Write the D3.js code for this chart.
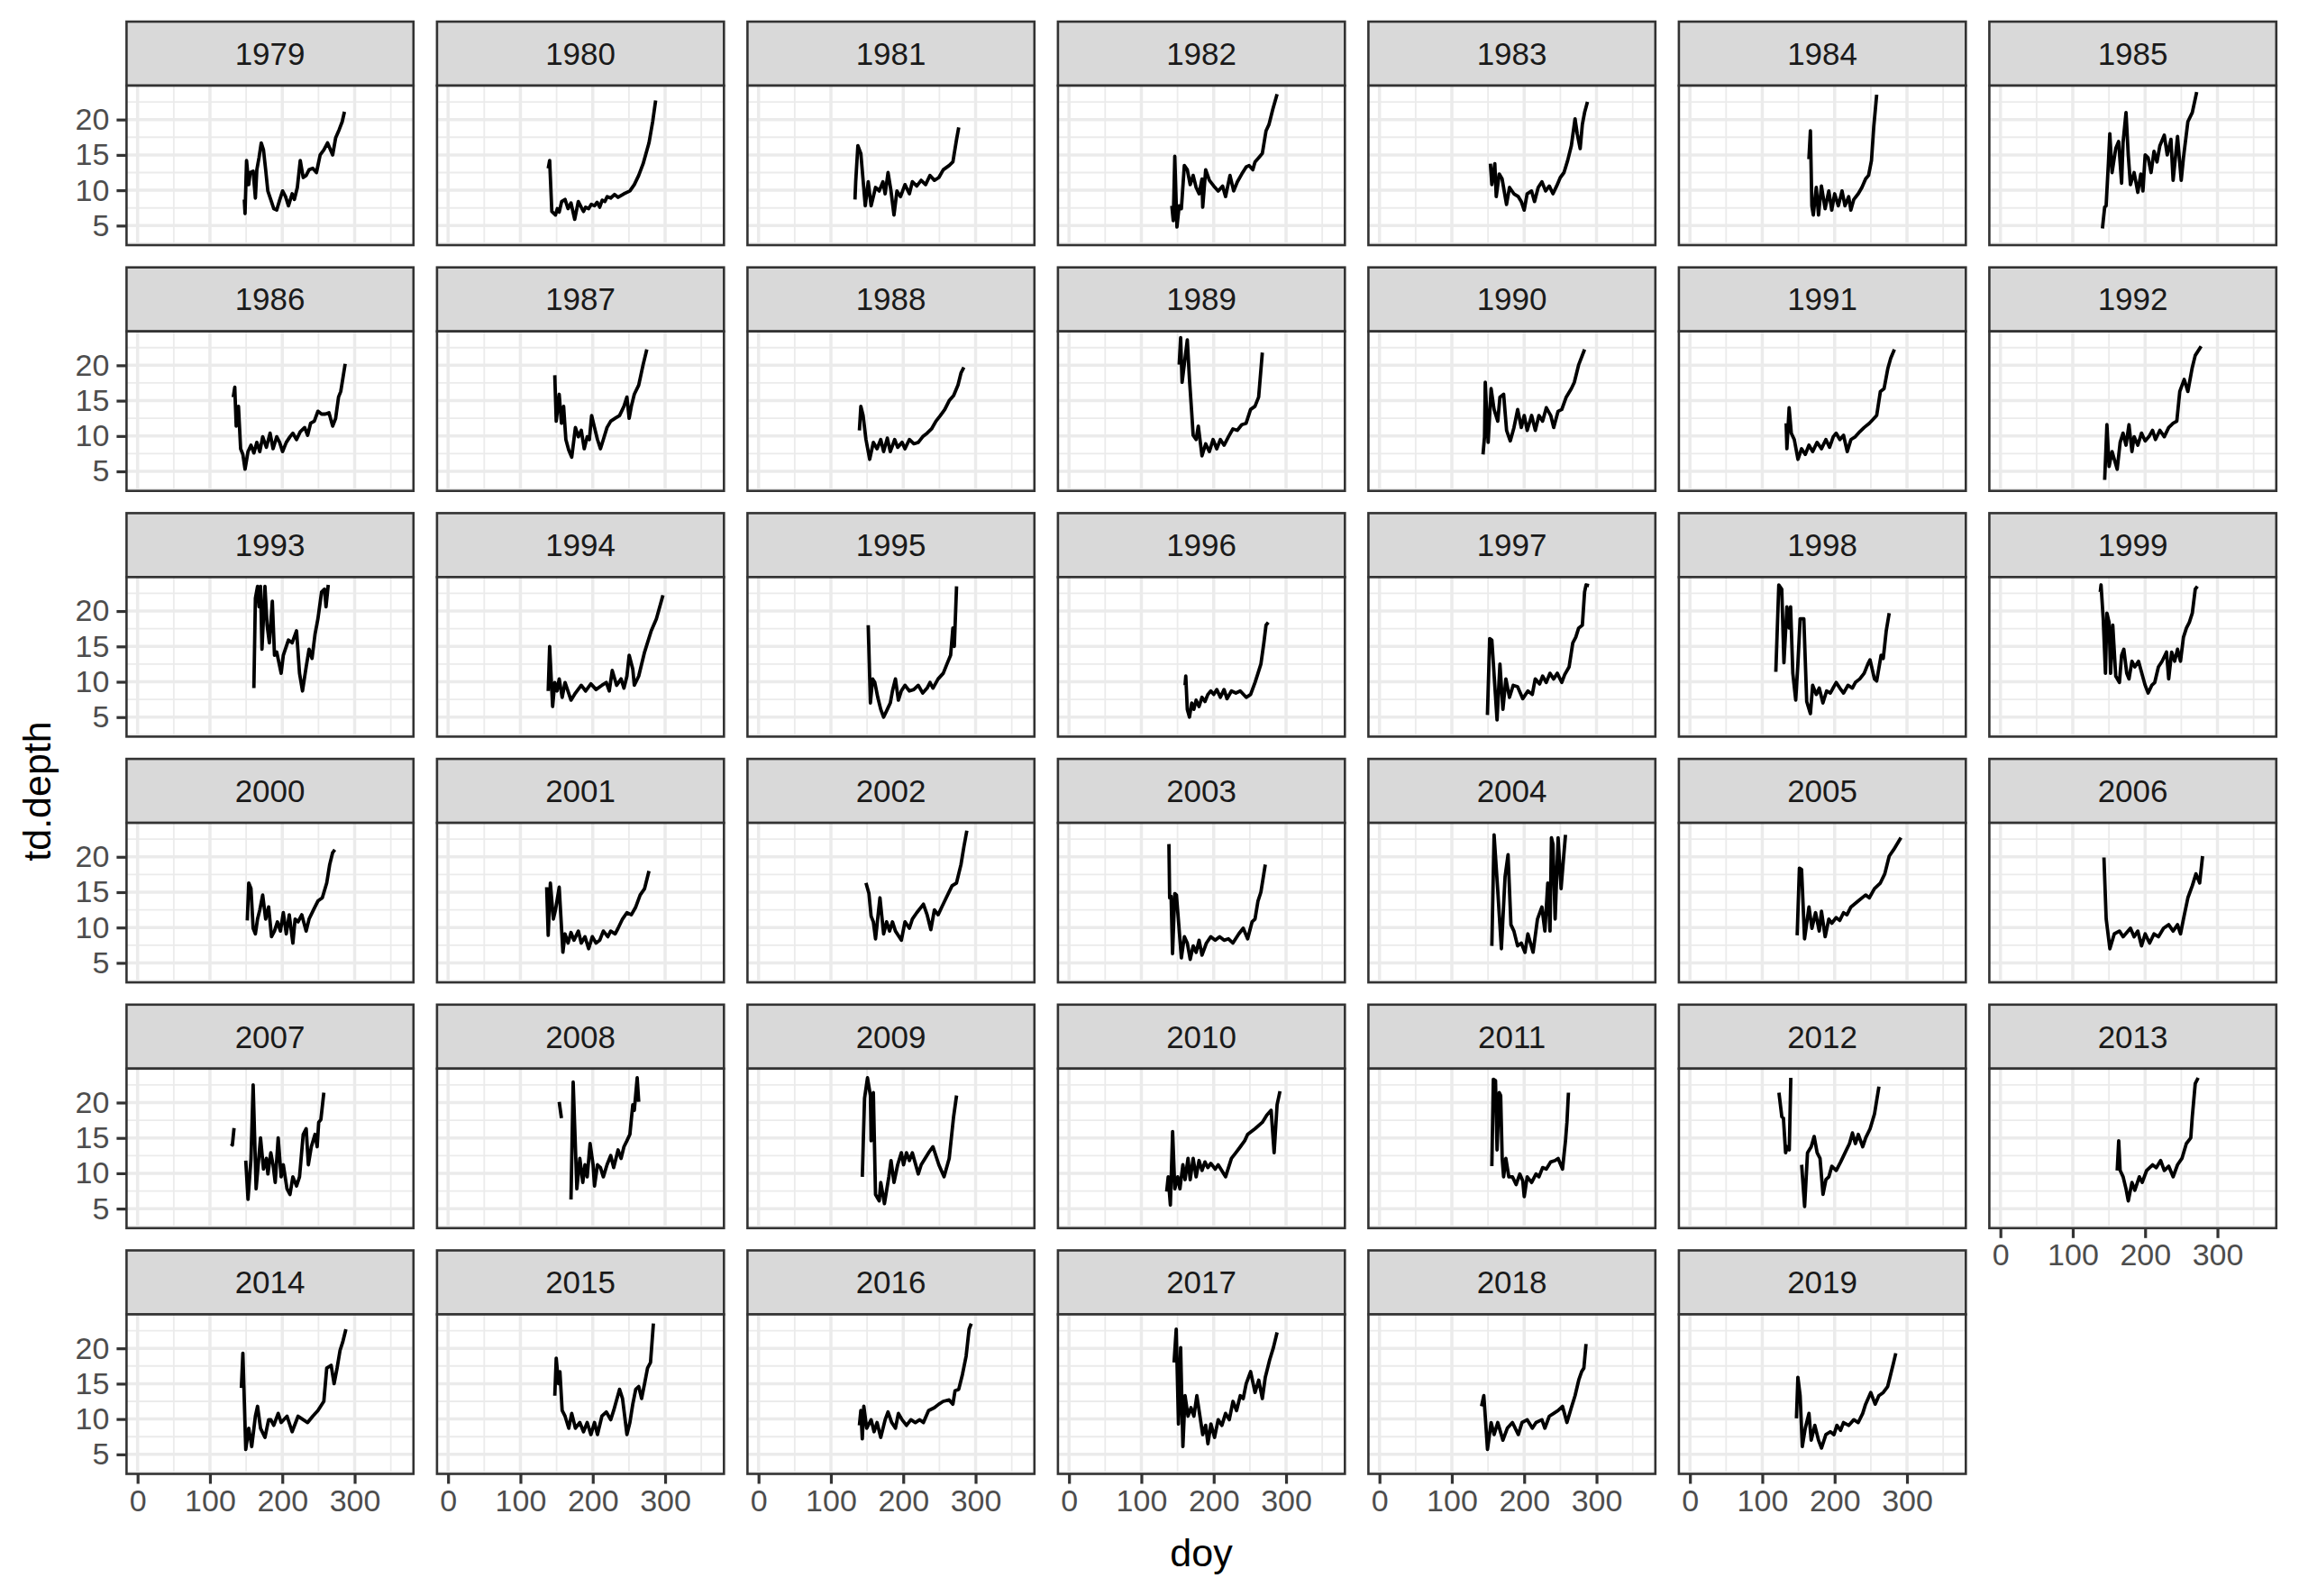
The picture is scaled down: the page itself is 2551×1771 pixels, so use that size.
<!DOCTYPE html>
<html><head><meta charset="utf-8">
<script src="https://cdn.jsdelivr.net/npm/d3@7"></script>
<style>html,body{margin:0;padding:0;background:#fff}svg{display:block}</style>
</head><body>
<script>
// ---- data: [doy, td.depth]; null depth = gap ----
const years = [1979,1980,1981,1982,1983,1984,1985,1986,1987,1988,1989,1990,1991,1992,1993,1994,1995,1996,1997,1998,1999,2000,2001,2002,2003,2004,2005,2006,2007,2008,2009,2010,2011,2012,2013,2014,2015,2016,2017,2018,2019];
const xTicks = [0,100,200,300];
const yTicks = [5,10,15,20];

const d1979 = [[147.5,8.7],[148.5,6.7],[150.6,14.2],[153.6,10.8],[155.6,12.5],[159.7,12.7],[162.8,8.9],[164.8,12.9],[167.8,14.6],[170.9,16.7],[174,15.7],[177,12.9],[180,9.9],[184,8.7],[188.2,7.4],[192.3,7.2],[196.3,8.6],[200.4,9.9],[204.5,9.1],[208.5,7.8],[213.6,9.5],[216.7,8.7],[220.8,10.4],[224.8,14.2],[228.9,11.8],[233,12.1],[237,12.9],[242.1,13.1],[247.2,12.5],[252.3,15],[257.4,15.7],[262.5,16.7],[269.6,15],[273.7,17.4],[278.7,18.6],[282.8,19.7],[285.9,21.1]];
const d1980 = [[138.4,13.1],[140.4,14.2],[143.4,7],[148.5,6.5],[151,7.4],[153.6,6.9],[157,8.4],[161.7,8.7],[165.8,7.4],[169.9,8.2],[175,5.9],[180,8.4],[184,7.6],[187.2,7],[190,7.6],[194.3,7.4],[198,8],[202.4,7.8],[206,8.3],[209.6,7.6],[213,8.6],[216.7,8.4],[220,9.1],[224.8,8.9],[230,9.4],[235,9],[243.1,9.5],[251.3,9.9],[257.4,10.8],[263.5,12.1],[269.6,13.75],[277.7,16.7],[282.8,19.7],[286.9,22.7]];
const d1981 = [[133.3,8.7],[134.3,11.2],[137.3,16.3],[141.4,15.2],[147.5,7.8],[151.6,11.2],[155.6,7.8],[161.7,10.4],[166.8,9.9],[171.9,11.2],[175,9.5],[179,12.5],[183.1,9.9],[187.2,6.5],[191.3,9.9],[196.3,9.1],[202.4,10.8],[208.5,9.5],[212.6,11.2],[218.7,10.6],[224.8,11.4],[230.9,10.8],[237,12.1],[243.1,11.4],[249.2,11.8],[255.3,12.9],[263.5,13.5],[268.6,14],[273.7,17.2],[276.7,18.9]];
const d1982 = [[142.1,7.8],[144.1,5.7],[146.2,14.8],[149.2,4.8],[152.3,7.8],[155.3,7.4],[159.4,13.5],[163.5,12.9],[167.5,10.8],[171.6,12.1],[175.7,10.4],[179.8,9.5],[183.8,11.6],[184.8,7.6],[188.9,12.9],[194,11.4],[200.1,10.6],[206.2,9.9],[212.3,10.6],[216.4,9.1],[222.5,12.1],[227.6,9.9],[232.7,11.2],[238.8,12.3],[244.9,13.3],[249,13.5],[254,12.9],[257.1,14],[262.2,14.6],[267.2,15.2],[272.3,18.4],[276.4,19.3],[281.5,21.4],[287.6,23.6]];
const d1983 = [[153.3,13.75],[155.3,10.8],[159.4,13.75],[161.4,9.1],[165.5,12.3],[169.5,11.6],[175.6,8],[179.7,10.4],[185.8,9.5],[191.9,9.1],[196,8.4],[200,7.2],[204.1,9.5],[210.2,9.9],[214.3,8.4],[219.4,10.4],[224.5,11.2],[229.6,9.9],[234.7,10.6],[239.8,9.5],[244.9,10.6],[249.9,11.8],[255,12.5],[260.1,14.2],[265.2,16.3],[270.3,20.1],[273.3,18],[277.4,15.9],[280.4,19.3],[283.5,21],[287.5,22.5]];
const d1984 = [[164.4,14.4],[166.5,18.4],[168.5,7.8],[170.5,6.5],[174.6,10.4],[177.7,6.5],[181.7,10.6],[186.8,7.4],[191.9,9.9],[196,7.2],[200,9.5],[205.1,7.8],[210.2,9.9],[214.3,7.8],[219.4,9.1],[222.4,7.2],[226.5,8.7],[232.6,9.5],[237.7,10.4],[242.8,11.6],[246.9,12.1],[250.9,14.2],[254,18.9],[258.1,23.5]];
const d1985 = [[141,4.6],[144.1,7.6],[146.1,7.8],[149.2,13.75],[151.2,18],[154.3,12.5],[159.4,15.9],[163.4,16.9],[167.5,11],[169.5,16.7],[173.6,21],[176.7,15],[179.7,10.8],[184.8,12.5],[189.9,9.7],[194,12.3],[197,9.9],[200.1,15],[204.2,14.6],[208.2,12.5],[212.3,15.5],[216.4,14],[220.4,16.3],[226.5,17.8],[230.6,15],[235.7,17.2],[238.7,11.4],[244.8,17.6],[249.9,11.4],[253,14.6],[259.1,19.7],[265.2,21],[271.3,23.9]];
const d1986 = [[132.2,15.5],[134.3,16.9],[136.3,11.4],[139.4,14.2],[142.4,8.2],[145.5,7.4],[148.5,5.3],[152.6,7.8],[156.7,8.7],[160.7,7.6],[164.8,9.1],[168.9,7.8],[172.9,9.9],[178,8.4],[183.1,10.4],[187.2,8.2],[192.3,9.9],[196.3,9.1],[200.4,7.8],[205.5,9.1],[210.6,9.9],[214.6,10.4],[219.7,9.5],[224.8,10.6],[230.9,11.2],[235,10.1],[239.1,11.8],[244.2,12.1],[249.2,13.5],[254.3,13.1],[259.4,13.1],[264.5,13.3],[269.6,11.4],[273.7,12.5],[277.7,15.5],[280.8,16.3],[286.9,20.2]];
const d1987 = [[147.5,18.6],[149.5,12.1],[153.6,15.9],[156.7,11.8],[159.7,14.2],[162.8,9.5],[166.8,8],[170.9,7],[176,11.2],[180.1,9.9],[184.1,10.8],[188.2,8.2],[192.3,9.9],[195.3,9.5],[198.4,12.9],[202.4,11.2],[206.5,9.5],[210.6,8.2],[214.6,9.5],[219.7,11.2],[224.8,12.1],[230.9,12.5],[237,12.9],[243.1,14.2],[247.2,15.5],[250.3,12.5],[253.3,14.2],[257.4,15.9],[263.5,17.2],[269.6,20.1],[274.7,22.25]];
const d1988 = [[139.4,10.8],[141.4,14.2],[144.5,12.9],[148.5,9.5],[153.6,6.7],[158.7,9.1],[163.8,8.2],[168.9,9.5],[172.9,7.8],[178,9.7],[182.1,7.8],[188.2,9.5],[192.3,8.4],[198.4,9.1],[202.4,8.2],[208.5,9.5],[214.6,8.9],[220.8,9.1],[226.9,9.9],[233,10.4],[239.1,11],[245.2,12.1],[251.3,12.9],[257.4,13.75],[263.5,15],[269.6,15.7],[275.7,17.2],[279.8,18.9],[283.8,19.7]];
const d1989 = [[152.3,20.1],[154.3,23.9],[156.3,17.6],[163.5,23.6],[166.5,18],[169.6,13.3],[171.6,10.1],[175.7,9.5],[178.7,11.4],[183.8,7.2],[188.9,8.9],[194,7.8],[199.1,9.5],[204.2,8.2],[209.2,9.5],[214.3,8.7],[220.4,9.9],[226.5,11],[232.6,10.8],[238.8,11.6],[244.8,11.8],[250.9,13.75],[257,14.2],[262.1,15.5],[267.2,21.8]];
const d1990 = [[143.1,7.4],[145.2,9.9],[146.2,17.6],[150.2,9.1],[154.3,16.7],[158.4,13.75],[163.5,12.1],[166.5,15.5],[171.6,15.9],[175.7,10.8],[180.8,9.3],[185.9,11.2],[191,13.75],[196,11.2],[200.1,12.9],[204.2,10.8],[210.3,12.9],[215.4,10.8],[220.4,12.9],[225.5,12.1],[230.6,14],[236.7,12.9],[240.8,11.2],[246.9,13.5],[252,13.75],[258.1,15.5],[265.2,16.7],[269.3,17.6],[275.4,20.1],[283.5,22.25]];
const d1991 = [[133,11.8],[134,8.2],[137.1,14],[140.1,10.4],[144.2,9.5],[149.3,6.7],[154.3,8.2],[159.4,7.4],[164.5,8.7],[169.6,7.8],[175.7,9.1],[181.8,8.2],[187.9,9.5],[193,8.4],[198.1,9.9],[202.1,10.4],[207.2,9.5],[212.3,10.1],[217.4,7.8],[222.5,9.5],[228.6,9.9],[234.7,10.6],[240.8,11.2],[247.9,11.8],[258.1,12.9],[263.2,16.3],[268.3,16.7],[273.4,19.5],[277.5,21],[282.6,22.25]];
const d1992 = [[144.1,3.8],[147.2,11.6],[150.2,5.7],[154.3,7.8],[161.4,5.3],[165.5,9.1],[169.5,10.4],[173.6,8.7],[177.7,11.6],[181.8,7.8],[184.8,9.9],[189.9,8.7],[195,10.4],[200.1,9.3],[205.2,9.9],[210.3,10.8],[214.3,9.5],[220.4,10.8],[226.5,9.9],[232.6,11.2],[238.7,11.8],[243.8,12.1],[247.9,16.3],[254,18],[259.1,16.3],[262.1,18],[265.2,19.7],[269.3,21.4],[277.4,22.7]];
const d1993 = [[160.7,9.1],[162.8,21.8],[165.8,23.5],[167.9,20.6],[169.9,23.5],[171.9,14.6],[176,23.5],[179,18],[182.1,15.5],[186.2,21.4],[189.2,13.75],[192.3,14.2],[198.4,11.2],[201.4,13.75],[208.5,15.9],[213.6,15.5],[219.7,17.2],[223.8,11.2],[227.9,8.7],[233,12.1],[237,14.6],[241.1,13.3],[245.2,16.7],[249.2,18.9],[254.3,22.7],[258.4,23.1],[260.4,20.6],[263.5,23.7]];
const d1994 = [[138.4,8.7],[140.4,15],[144.5,6.5],[147.5,9.9],[150.6,8.7],[153.6,10.4],[157.7,7.8],[161.7,9.9],[169.9,7.4],[176,8.4],[184.1,9.5],[190.2,8.7],[197.4,9.7],[204.5,8.9],[212.6,9.5],[218.7,9.9],[222.8,8.7],[226.9,11.6],[233,9.5],[239.1,10.4],[243.1,9.1],[247.2,10.8],[250.3,13.75],[255.3,11.8],[257.4,9.5],[263.5,10.8],[271.6,14.2],[280.8,17.2],[287.9,18.9],[297,22.25]];
const d1995 = [[151.6,18],[154.6,7],[157.7,10.4],[160.7,9.9],[164.8,7.8],[168.9,6.1],[172.9,5],[178,6.1],[182.1,7],[185.1,8.7],[189.2,10.4],[193.3,7.4],[197.3,8.7],[202.4,9.5],[208.5,8.7],[214.6,8.9],[220.8,9.5],[226.9,8.4],[233,9.1],[237,9.9],[241.1,9.1],[248.2,10.4],[255.3,11.2],[260.4,12.5],[265.5,13.75],[268.6,17.6],[270.6,15],[273.7,23.5]];
const d1996 = [[160.4,9.5],[161.4,10.8],[163.5,6.1],[166.5,5],[169.6,7],[172.6,6.1],[175.7,7.4],[179.7,6.5],[183.8,7.8],[187.9,7.2],[191.9,8.2],[196,8.7],[200.1,8.2],[204.2,8.9],[209.2,7.8],[214.3,8.9],[218.4,7.6],[224.5,8.7],[230.6,8.4],[236.7,8.7],[244.9,7.8],[251,8.2],[257.1,9.9],[261.2,11.2],[265.2,12.5],[269.3,15.5],[272.3,18],[275.4,18.4]];
const d1997 = [[149.2,5.3],[152.3,16.1],[155.3,15.9],[162.5,4.6],[166.5,12.5],[170.6,6.1],[174.7,10.4],[179.7,7.8],[184.8,9.5],[190.9,9.3],[198,7.6],[205.1,8.7],[211.2,8.2],[215.3,10.4],[221.4,9.7],[225.5,10.8],[230.5,9.9],[235.6,11.2],[240.7,10.4],[245.8,11.2],[251.9,9.9],[256,11],[262.1,12.1],[267.2,15.5],[271.3,16.3],[275.3,17.6],[280.4,18],[283.5,22.7],[285.5,23.7],[289.6,23.6]];
const d1998 = [[118.7,11.4],[122.8,23.7],[126.9,23.1],[129.9,12.7],[134,20.6],[137.1,17.6],[139.1,20.6],[142.2,11.2],[146.2,7.4],[149.2,12.5],[152.3,18.9],[157.4,18.9],[161.4,7.2],[166.5,5.5],[169.6,9.5],[174.6,8.2],[178.7,9.1],[183.8,7],[188.9,8.7],[194,8.4],[202.1,9.9],[207.2,9.1],[212.3,8.4],[218.4,9.5],[224.5,9.1],[228.6,9.9],[234.7,10.4],[240.8,11.2],[245.9,12.5],[248.9,13.1],[255,10.4],[258.1,10.1],[264.2,13.75],[267.2,13.3],[271.3,17.2],[275.4,19.7]];
const d1999 = [[138,22.7],[139.1,23.7],[142.1,18.9],[145.2,11.2],[147.2,19.7],[150.2,18.4],[152.3,11.2],[155.3,18],[159.4,10.8],[164.5,9.9],[167.5,13.75],[170.6,14.6],[174.6,11.2],[177.7,10.4],[181.8,12.9],[185.8,12.1],[190.9,12.9],[196,11],[200.1,9.5],[204.2,8.4],[209.2,9.5],[213.3,9.9],[218.4,12.1],[223.5,12.9],[229.6,14.2],[232.6,10.4],[236.7,14.2],[240.8,12.9],[244.8,14.6],[248.9,12.9],[253,16.3],[257.1,17.6],[261.1,18.4],[265.2,19.7],[269.3,23.1],[272.3,23.5]];
const d2000 = [[151.6,11],[153.6,16.3],[156.7,15.5],[159.7,9.9],[162.8,9.1],[165.8,11.2],[168.9,12.5],[172.9,14.6],[177,11.2],[181.1,12.9],[185.1,8.7],[189.2,9.5],[193.3,10.8],[197.4,9.5],[201.4,12.1],[205.5,9.1],[209.6,11.8],[214.6,7.8],[217.7,11.2],[221.8,10.8],[226.9,11.8],[233,9.5],[237,11.2],[243.1,12.5],[249.2,13.75],[255.3,14.2],[261.4,16.3],[265.5,18.9],[269.6,20.6],[272.6,21]];
const d2001 = [[136.3,15.7],[138.4,8.9],[141.4,16.3],[145.5,11.2],[148.5,12.5],[153.6,15.7],[158.7,6.5],[161.7,9.1],[165.8,7.8],[169.9,9.3],[174,8.2],[180.1,9.5],[184.1,7.8],[189.2,8.7],[194.3,7],[199.4,8.7],[204.5,7.8],[209.6,8.2],[214.6,9.5],[220.8,8.7],[224.8,9.5],[230.9,9.1],[235,9.9],[241.1,11.2],[247.2,12.1],[253.3,11.8],[259.4,12.9],[265.5,14.6],[271.6,15.5],[277.7,18]];
const d2002 = [[148.5,16.3],[152.6,14.8],[155.6,11.6],[158.7,10.8],[161.7,8.4],[167.8,14.2],[172.9,9.1],[177,10.8],[181.1,9.5],[185.1,10.8],[189.2,9.5],[197.4,8.2],[202.4,10.8],[208.5,9.9],[212.6,11.2],[218.7,12.1],[227.9,13.3],[233,11.8],[238.1,9.7],[243.1,12.5],[248.2,11.8],[253.3,12.9],[259.4,14.2],[267.5,15.9],[273.6,16.3],[279.8,18.9],[283.8,21.4],[287.9,23.7]];
const d2003 = [[138.1,21.8],[139.1,14.2],[141.1,14.4],[143.1,6.3],[146.2,14.8],[148.5,14.6],[155.3,5.7],[159.4,8.7],[163.5,7.8],[167.5,5.5],[171.6,7.4],[175.7,6.5],[179.8,8.2],[183.8,6.1],[189.9,7.8],[196,8.7],[202.1,8.2],[208.2,8.7],[214.3,8.2],[220.4,8.4],[226.5,7.8],[234.7,9.1],[240.8,9.9],[246.9,8.4],[253,10.8],[257.1,11.2],[261.2,13.75],[265.2,15],[271.3,18.9]];
const d2004 = [[155.3,7.4],[158.4,23.1],[163.5,15.2],[168.5,7],[173.6,17.2],[177.7,20.3],[181.7,10.4],[185.8,9.5],[190.9,7.4],[196,7.8],[201.1,6.5],[205.1,9.1],[212.3,6.5],[218.4,11.2],[224.5,12.9],[228.6,9.5],[232.6,16.3],[235.7,9.5],[237.7,22.7],[239.8,21.8],[242.8,11.2],[246.9,22.7],[251,15.5],[254,19.3],[257.1,23.1]];
const d2005 = [[148.2,8.9],[151.3,18.4],[154.3,18.2],[158.4,8.4],[164.5,12.9],[168.6,9.9],[173.6,12.1],[178.7,9.5],[181.8,12.3],[186.9,8.7],[191.9,11.2],[196,10.6],[202.1,11.4],[207,11.0],[212.3,12.1],[217,11.8],[222.5,12.9],[232.6,13.75],[242.8,14.6],[247.9,14.2],[255,15.5],[263.2,16.3],[269.3,17.6],[275.4,20.1],[281.5,21],[291.6,22.7]];
const d2006 = [[143.1,19.9],[146.2,11.2],[151.3,7],[157.4,9.1],[164.5,9.5],[169.6,8.7],[179.7,9.9],[184.8,8.7],[189.9,9.5],[195,7.4],[200.1,9.1],[206.2,7.8],[212.3,9.1],[218.4,8.7],[225.5,9.9],[232.6,10.4],[238.7,9.5],[244.8,10.4],[248.9,9.1],[253,11.2],[259.1,14.2],[265.2,15.9],[270.3,17.6],[275.4,16.3],[279.4,20.1]];
const d2007 = [[129.2,14.2],[131,14],[133.3,16.4],[140,null],[149.5,11.8],[152.6,6.3],[156.7,12],[159.7,22.5],[163.8,7.8],[169.9,15],[174,10.6],[178,12.1],[180.1,9.9],[184.1,12.9],[187.2,11.2],[190.2,8.7],[194.3,15],[198.4,9.5],[201.4,11.2],[206.5,7.8],[210.6,7],[214.6,9.5],[219.7,8.2],[223.8,9.5],[228.9,15.5],[233,16.3],[236,11.2],[240.1,13.75],[245.2,15.5],[248.2,13.75],[250.3,17.2],[253.3,17.6],[257.4,21.4]];
const d2008 = [[153.6,20.1],[156.7,17.8],[163,null],[169.9,6.3],[172.9,22.9],[178,7.8],[182.1,12.1],[186.2,8.7],[189.2,11.2],[192.3,9.5],[196.3,14.2],[200.4,11.2],[202.4,8.2],[206.5,11.2],[210.6,10.8],[214.6,9.5],[219.7,11.2],[224.8,12.5],[228.9,10.8],[235,13.3],[239.1,12.1],[243.1,13.75],[247.2,14.6],[251.3,15.5],[255.3,19.7],[257.4,18.9],[261.4,23.5],[263.5,20.1]];
const d2009 = [[143.4,9.5],[146.5,20.6],[150.6,23.5],[154.6,21],[155.6,14.6],[158.7,21.4],[161.7,7],[166.8,6.1],[168.9,8.7],[174,5.7],[180.1,9.5],[183.1,11.8],[187.2,8.7],[192.3,11.2],[197.4,12.9],[200.4,11.2],[204.5,12.9],[208.5,11.8],[212.6,12.9],[220.8,9.9],[224.8,11.2],[235,12.9],[241.1,13.75],[249.2,11.2],[256.4,9.5],[263.5,12.1],[269.6,18],[273.7,21]];
const d2010 = [[135,7.4],[137.1,9.5],[140.1,5.5],[143.2,15.9],[146.2,7.8],[150.3,9.5],[153.3,7.8],[157.4,11.2],[160.4,9.1],[164.5,12.1],[167.5,9.1],[171.6,12.1],[175.7,9.5],[179.7,11.8],[183.8,10.4],[187.9,11.6],[191.9,10.8],[196,11.4],[202.1,10.6],[206.2,11.2],[216.4,9.5],[224.5,12.1],[230.6,12.9],[236.8,13.75],[242.8,14.6],[246.9,15.5],[257.1,16.3],[267.2,17.2],[273.3,18.2],[279.4,18.9],[283.5,12.9],[287.6,19.7],[291.6,21.6]];
const d2011 = [[155.3,11],[157.4,23.3],[160.4,23.1],[162.5,13.3],[165.5,21.4],[167.5,21],[169.6,12.1],[171.6,9.5],[174.7,12.1],[178.8,9.5],[183.8,9.5],[188.9,8.4],[194,9.9],[198.1,8.9],[200.1,6.7],[204.2,9.5],[210.3,8.7],[216.4,9.9],[220.4,9.5],[225.5,10.8],[230.6,10.6],[236.7,11.6],[242.8,11.8],[246.9,12.1],[253,10.6],[257.1,14.6],[259.1,17.2],[261.2,21.4]];
const d2012 = [[123,21.4],[127,18],[129.2,17.8],[132.2,12.9],[134.3,13.75],[137.3,13.3],[139.4,23.5],[146,null],[154.4,11.2],[158.5,5.3],[162.5,12.9],[167.6,13.75],[171.7,15.2],[175.8,12.9],[179.8,12.1],[183.9,7],[188,9.1],[192,9.5],[196.1,11],[202.2,10.4],[208.3,11.6],[214.4,12.9],[220.5,14.2],[224.6,15.7],[228.7,14.2],[232.7,15.5],[238.8,13.75],[242.9,15],[249,16.3],[255.1,18.4],[261.2,22.25]];
const d2013 = [[161.4,10.4],[163.5,14.6],[165.5,10.4],[169.6,9.5],[173.6,7.8],[176.7,6.1],[181.8,8.7],[185.8,7.6],[192,9.5],[196,8.7],[202.1,10.4],[210.3,11.2],[215.4,10.8],[221.5,11.8],[226.5,10.4],[232.6,11],[238.7,9.5],[244.8,11.2],[250.9,12.1],[257,14.2],[263.1,15],[265.2,18],[269.3,22.7],[273.3,23.5]];
const d2014 = [[143.4,14.4],[145.5,19.3],[149.5,5.7],[153.6,8.7],[157.7,6.1],[162.8,10.4],[165.8,11.8],[169.9,8.7],[176,7.4],[181.1,9.9],[184.1,9.9],[188.2,9.1],[194.3,10.8],[198.4,9.5],[206.5,10.4],[213.6,8.2],[221.8,10.4],[228.9,9.9],[235,9.5],[242.1,10.4],[249.2,11.2],[257.4,12.5],[261.4,17.2],[267.5,17.6],[271.6,15],[275.7,17.2],[279.8,19.7],[283.8,21],[287.9,22.7]];
const d2015 = [[147.5,13.3],[149.5,18.6],[152.6,15],[154.6,16.7],[157.7,11.2],[161.7,10.4],[166.8,8.7],[170.9,10.8],[176,8.7],[182.1,9.5],[187.2,8.2],[192.3,9.5],[197.4,7.8],[202.4,9.5],[206.5,7.8],[212.6,10.4],[218.7,11],[224.8,9.9],[228.9,11.2],[237,14.2],[241.1,12.9],[245.2,9.5],[247.2,7.8],[251.3,9.5],[255.3,12.1],[259.4,14.2],[263.5,14.6],[267.5,12.9],[271.6,15],[275.7,17.2],[279.8,18],[283.8,23.5]];
const d2016 = [[139.4,9.1],[141.4,11.2],[143.4,7.2],[145.5,11.8],[149.5,8.7],[155.6,9.9],[159.7,8.2],[163.8,9.5],[168.9,7.4],[175,9.9],[179,11],[184.1,9.5],[189.2,8.7],[193.3,10.8],[198.4,9.9],[204.5,9.1],[210.6,9.9],[216.7,9.5],[222.8,9.9],[227.9,9.5],[235,11.2],[243.1,11.6],[249.2,12.1],[255.3,12.5],[263.5,12.7],[268.6,12.1],[271.6,14],[276.7,14.2],[281.8,16.3],[286.9,18.9],[291,22.7],[294,23.5]];
const d2017 = [[145.2,18],[148.2,22.7],[151.3,9.3],[154.3,20.1],[157.4,6.1],[160.4,13.3],[164.5,10.4],[168.6,11.6],[172.6,10.4],[176.7,13.3],[179.8,11.2],[184.8,7.8],[188.9,9.1],[192,6.5],[196.1,9.3],[201.1,7.4],[206.2,9.9],[211.3,9.1],[216.4,10.8],[221.5,9.9],[226.6,12.5],[231.6,11.2],[236.7,13.3],[240.8,12.9],[244.9,15],[251,16.7],[257.1,13.75],[262.2,15.5],[267.2,12.9],[271.3,15.9],[277.4,18.4],[282.5,20.1],[287.6,22.25]];
const d2018 = [[141.1,11.8],[144.2,13.3],[146.2,10.4],[149.3,5.7],[154.3,9.5],[158.4,7.8],[163.5,9.5],[170.6,7],[176.7,8.7],[183.8,9.5],[191.9,7.8],[197,9.5],[204.2,9.9],[211.3,8.7],[216.4,9.5],[224.5,9.9],[228.6,8.7],[234.7,10.4],[240.8,10.8],[246.9,11.2],[253,11.8],[259.1,9.5],[265.2,11.6],[270.3,13.3],[275.4,15.5],[279.4,16.7],[282.5,17.2],[285.5,20.6]];
const d2019 = [[147.2,10.1],[149.2,15.9],[152.3,13.3],[155.3,6.1],[159.4,8.7],[164.5,10.8],[167.6,7],[172.6,9.1],[177.7,7],[181.8,5.9],[187.9,7.8],[194,8.2],[199.1,7.8],[203.1,9.1],[208.2,8.4],[212.3,9.5],[219.4,9.1],[226.5,9.9],[232.6,9.5],[238.8,10.8],[242.8,12.1],[249.9,13.75],[256,12.1],[261.1,13.3],[267.2,13.75],[273.3,14.6],[277.4,16.3],[281.5,18],[284.5,19.3]];

const seriesList = [d1979,d1980,d1981,d1982,d1983,d1984,d1985,d1986,d1987,d1988,d1989,d1990,d1991,d1992,d1993,d1994,d1995,d1996,d1997,d1998,d1999,d2000,d2001,d2002,d2003,d2004,d2005,d2006,d2007,d2008,d2009,d2010,d2011,d2012,d2013,d2014,d2015,d2016,d2017,d2018,d2019];

// ---- layout ----
const W = 2551, H = 1771;
const NCOL = 7;
const left0 = 140.4, pitchX = 344.5, panelW = 318.4;
const top0 = 24, pitchY = 272.7, stripH = 71, panelH = 177;
const FONT = "'Liberation Sans', Arial, Helvetica, sans-serif";

const x = d3.scaleLinear().domain([-15.3, 381.3]).range([0, panelW]);
const y = d3.scaleLinear().domain([2.24, 24.8]).range([panelH, 0]);
const xMinor = [50,150,250,350];
const yMinor = [2.5,7.5,12.5,17.5,22.5];

const svg = d3.select("body").append("svg").attr("width", W).attr("height", H)
  .style("font-family", FONT);
svg.append("rect").attr("width", W).attr("height", H).attr("fill", "#fff");

const line = d3.line().defined(d => d[1] != null).x(d => x(d[0])).y(d => y(d[1]));

years.forEach((yr, i) => {
  const r = Math.floor(i / NCOL), c = i % NCOL;
  const g = svg.append("g").attr("transform", `translate(${left0 + c * pitchX},${top0 + r * pitchY})`);
  // strip
  g.append("rect").attr("x", 0).attr("y", 0).attr("width", panelW).attr("height", stripH)
    .attr("fill", "#D9D9D9").attr("stroke", "#333333").attr("stroke-width", 2.6);
  g.append("text").attr("x", panelW / 2).attr("y", stripH / 2).attr("dy", "0.35em")
    .attr("text-anchor", "middle").attr("font-size", 35).attr("fill", "#1A1A1A").text(yr);
  // panel
  const p = g.append("g").attr("transform", `translate(0,${stripH})`);
  p.append("rect").attr("width", panelW).attr("height", panelH).attr("fill", "#fff");
  p.selectAll(".xm").data(xMinor).join("line").attr("x1", d => x(d)).attr("x2", d => x(d))
    .attr("y1", 0).attr("y2", panelH).attr("stroke", "#EBEBEB").attr("stroke-width", 1.8);
  p.selectAll(".ym").data(yMinor).join("line").attr("y1", d => y(d)).attr("y2", d => y(d))
    .attr("x1", 0).attr("x2", panelW).attr("stroke", "#EBEBEB").attr("stroke-width", 1.8);
  p.selectAll(".xM").data(xTicks).join("line").attr("x1", d => x(d)).attr("x2", d => x(d))
    .attr("y1", 0).attr("y2", panelH).attr("stroke", "#EBEBEB").attr("stroke-width", 3.5);
  p.selectAll(".yM").data(yTicks).join("line").attr("y1", d => y(d)).attr("y2", d => y(d))
    .attr("x1", 0).attr("x2", panelW).attr("stroke", "#EBEBEB").attr("stroke-width", 3.5);
  p.append("path").datum(seriesList[i]).attr("d", line).attr("fill", "none")
    .attr("stroke", "#000").attr("stroke-width", 3.8).attr("stroke-linejoin", "round");
  p.append("rect").attr("width", panelW).attr("height", panelH).attr("fill", "none")
    .attr("stroke", "#333333").attr("stroke-width", 2.6);

  if (c === 0) {
    const ax = p.append("g").call(d3.axisLeft(y).tickValues(yTicks).tickSize(11).tickPadding(8));
    ax.select(".domain").remove();
    ax.selectAll("line").attr("stroke", "#333333").attr("stroke-width", 3.2);
    ax.selectAll("text").attr("font-size", 34).attr("fill", "#4D4D4D").attr("font-family", FONT);
  }
  if (i + NCOL >= years.length) {
    const ax = p.append("g").attr("transform", `translate(0,${panelH})`)
      .call(d3.axisBottom(x).tickValues(xTicks).tickSize(11).tickPadding(6));
    ax.select(".domain").remove();
    ax.selectAll("line").attr("stroke", "#333333").attr("stroke-width", 3.2);
    ax.selectAll("text").attr("font-size", 34).attr("fill", "#4D4D4D").attr("font-family", FONT);
  }
});

// axis titles
svg.append("text").attr("x", 1333).attr("y", 1723).attr("dy", "0.35em").attr("text-anchor", "middle")
  .attr("font-size", 43).attr("fill", "#000").text("doy");
svg.append("text").attr("transform", "translate(41,878) rotate(-90)").attr("dy", "0.35em")
  .attr("text-anchor", "middle").attr("font-size", 43).attr("fill", "#000").text("td.depth");
</script>
</body></html>
